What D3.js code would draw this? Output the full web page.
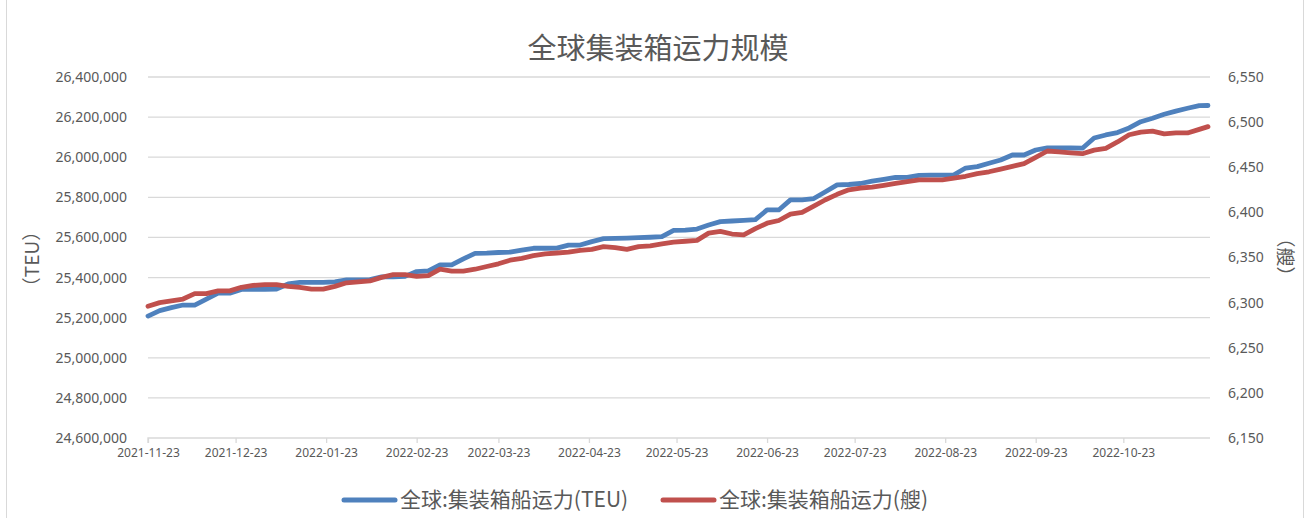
<!DOCTYPE html>
<html>
<meta charset="utf-8">
<title>全球集装箱运力规模</title>
<style>
body { margin: 0; background: #fff; }
text { font-family: "Noto Sans", "Noto Sans CJK SC", sans-serif; fill: #595959; }
.cjk { font-family: "Noto Sans CJK SC", sans-serif; }
</style>
<body>
<div id="chart"></div>
<script src="https://cdn.jsdelivr.net/npm/d3@7"></script>
<script>
// dates every 4 days from the first day, last point on the last day
var startDate = "2021-11-23", endDate = "2022-11-21";
var parse = d3.utcParse("%Y-%m-%d");
var dates = d3.utcDay.range(parse(startDate), parse("2022-11-19"), 4);
dates.push(parse(endDate));

// 全球:集装箱船运力(TEU)
var teu = [25208000,25235000,25250000,25263000,25263000,25292000,25322000,25322000,25341000,25341000,
  25341000,25343000,25368000,25376000,25376000,25376000,25378000,25388000,25388000,25390000,
  25403000,25404000,25406000,25430000,25433000,25463000,25463000,25493000,25521000,25522000,
  25525000,25527000,25537000,25546000,25546000,25547000,25562000,25562000,25579000,25594000,
  25595000,25597000,25599000,25601000,25604000,25635000,25637000,25642000,25662000,25679000,
  25682000,25685000,25689000,25737000,25737000,25787000,25787000,25794000,25828000,25862000,
  25864000,25869000,25881000,25890000,25899000,25900000,25909000,25911000,25911000,25912000,
  25946000,25953000,25970000,25986000,26011000,26011000,26036000,26047000,26047000,26046000,
  26045000,26096000,26111000,26123000,26146000,26177000,26194000,26214000,26230000,26244000,
  26257000,26258000];

// 全球:集装箱船运力(艘)
var ships = [6296,6300,6302,6304,6310,6310,6313,6313,6317,6319,
  6320,6320,6318,6317,6315,6315,6318,6322,6323,6324,
  6328,6331,6331,6329,6330,6337,6335,6335,6337,6340,
  6343,6347,6349,6352,6354,6355,6356,6358,6359,6362,
  6361,6359,6362,6363,6365,6367,6368,6369,6377,6379,
  6376,6375,6382,6388,6391,6398,6400,6407,6414,6420,
  6425,6427,6428,6430,6432,6434,6436,6436,6436,6438,
  6440,6443,6445,6448,6451,6454,6461,6468,6467,6466,
  6465,6469,6471,6478,6486,6489,6490,6487,6488,6488,
  6492,6495];

var leftTicks = [24600000,24800000,25000000,25200000,25400000,25600000,25800000,26000000,26200000,26400000];
var rightTicks = [6150,6200,6250,6300,6350,6400,6450,6500,6550];
var xTickLabels = ["2021-11-23","2021-12-23","2022-01-23","2022-02-23","2022-03-23","2022-04-23",
  "2022-05-23","2022-06-23","2022-07-23","2022-08-23","2022-09-23","2022-10-23"];
var seriesNames = ["全球:集装箱船运力(TEU)", "全球:集装箱船运力(艘)"];
var colors = ["#4F81BD", "#C0504D"];

var width = 1309, height = 518;
var plotLeft = 148, plotRight = 1208, plotTop = 77, plotBottom = 438;

var svg = d3.select("#chart").append("svg")
  .attr("width", width).attr("height", height);

// outer frame
svg.append("rect")
  .attr("x", 6.5).attr("y", -2).attr("width", 1297).attr("height", 540)
  .attr("fill", "none").attr("stroke", "#d9d9d9");

var x = d3.scaleUtc().domain([parse(startDate), parse(endDate)]).range([plotLeft, plotRight]);
var yL = d3.scaleLinear().domain([24600000, 26400000]).range([plotBottom, plotTop]);
var yR = d3.scaleLinear().domain([6150, 6550]).range([plotBottom, plotTop]);

// gridlines
svg.append("g").selectAll("line").data(leftTicks.slice(1)).enter().append("line")
  .attr("x1", plotLeft).attr("x2", plotRight + 2)
  .attr("y1", function(d){ return yL(d); }).attr("y2", function(d){ return yL(d); })
  .attr("stroke", "#d9d9d9").attr("stroke-width", 1.3);

// left axis
var gl = svg.append("g").attr("transform", "translate(" + (plotLeft - 18) + ",0)")
  .call(d3.axisLeft(yL).tickValues(leftTicks).tickFormat(d3.format(",")).tickSize(0));
gl.select(".domain").remove();
gl.selectAll("text").attr("font-size", 14).attr("fill", "#595959").attr("font-family", "Noto Sans");

// right axis
var gr = svg.append("g").attr("transform", "translate(" + (plotRight + 17) + ",0)")
  .call(d3.axisRight(yR).tickValues(rightTicks).tickFormat(d3.format(",")).tickSize(0));
gr.select(".domain").remove();
gr.selectAll("text").attr("font-size", 14).attr("fill", "#595959").attr("font-family", "Noto Sans");

// bottom axis
var gx = svg.append("g").attr("transform", "translate(0," + plotBottom + ")")
  .call(d3.axisBottom(x).tickValues(xTickLabels.map(parse)).tickFormat(d3.utcFormat("%Y-%m-%d"))
    .tickSize(5).tickSizeOuter(5).tickPadding(5));
gx.select(".domain").attr("stroke", "#d9d9d9").attr("stroke-width", 1.3)
  .attr("d", "M" + plotLeft + ",5V0H" + (plotRight + 2));
gx.selectAll(".tick line").attr("stroke", "#d9d9d9").attr("stroke-width", 1.3);
gx.selectAll("text").attr("font-size", 12).attr("fill", "#595959").attr("font-family", "Noto Sans");

// series
var lineL = d3.line().x(function(d, i){ return x(dates[i]); }).y(function(d){ return yL(d); });
var lineR = d3.line().x(function(d, i){ return x(dates[i]); }).y(function(d){ return yR(d); });

svg.append("path").datum(teu).attr("d", lineL)
  .attr("fill", "none").attr("stroke", colors[0]).attr("stroke-width", 4.8)
  .attr("stroke-linejoin", "round").attr("stroke-linecap", "round");
svg.append("path").datum(ships).attr("d", lineR)
  .attr("fill", "none").attr("stroke", colors[1]).attr("stroke-width", 4.8)
  .attr("stroke-linejoin", "round").attr("stroke-linecap", "round");

// title
svg.append("text").attr("class", "cjk")
  .attr("x", 658).attr("y", 59).attr("text-anchor", "middle")
  .attr("font-size", 29).text("全球集装箱运力规模");

// axis titles
svg.append("text").attr("class", "cjk")
  .attr("transform", "translate(39,259) rotate(-90)")
  .attr("text-anchor", "middle").attr("font-size", 19).text("（TEU）");
svg.append("text").attr("class", "cjk")
  .attr("transform", "translate(1278,257) rotate(90)")
  .attr("text-anchor", "middle").attr("font-size", 19).text("（艘）");

// legend
var legendX = [341, 660];
var lg = svg.append("g").selectAll("g").data(seriesNames).enter().append("g")
  .attr("transform", function(d, i){ return "translate(" + legendX[i] + ",500)"; });
lg.append("line").attr("x1", 3).attr("x2", 54).attr("y1", 0).attr("y2", 0)
  .attr("stroke", function(d, i){ return colors[i]; })
  .attr("stroke-width", 5).attr("stroke-linecap", "round");
lg.append("text").attr("class", "cjk").attr("x", 59).attr("y", 7)
  .attr("font-size", 21).text(function(d){ return d; });
</script>
</body>
</html>
